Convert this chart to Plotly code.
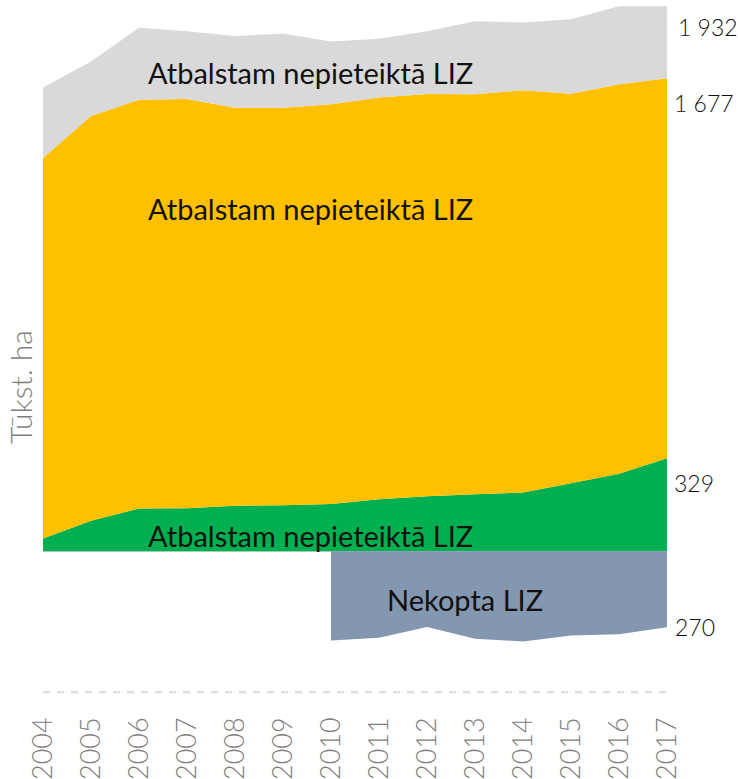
import plotly.graph_objects as go

years = list(range(2004, 2018))
green_vals = [45, 108, 151, 152, 161, 163, 167, 184, 195, 202, 208, 241, 274, 329]
orange_vals = [1349, 1435, 1449, 1451, 1411, 1409, 1417, 1424, 1426, 1418, 1426, 1381, 1381, 1348]
gray_vals = [250, 193, 256, 240, 254, 263, 223, 209, 222, 259, 240, 264, 277, 255]
neg_years = list(range(2010, 2018))
neg_vals = [-317, -307, -269, -311, -320, -299, -295, -270]

series_label = "Atbalstam nepieteiktā LIZ"
neg_label = "Nekopta LIZ"
end_labels = ["1 932", "1 677", "329", "270"]
y_title = "Tūkst. ha"

FONT = "Lato"
fig = go.Figure()
fig.add_trace(go.Scatter(x=years, y=green_vals, stackgroup="pos", mode="none",
                         fillcolor="#00b050", name="green"))
fig.add_trace(go.Scatter(x=years, y=orange_vals, stackgroup="pos", mode="none",
                         fillcolor="#ffc000", name="orange"))
fig.add_trace(go.Scatter(x=years, y=gray_vals, stackgroup="pos", mode="none",
                         fillcolor="#d9d9d9", name="gray"))
fig.add_trace(go.Scatter(x=neg_years, y=neg_vals, fill="tozeroy", mode="none",
                         fillcolor="#8497b0", name="neg"))

ann_font = dict(family=FONT, size=29, color="#111111", weight=400)
annotations = [
    dict(x=2009.58, y=1691, text=series_label),
    dict(x=2009.58, y=1206, text=series_label),
    dict(x=2009.58, y=50, text=series_label),
    dict(x=2012.79, y=-178, text=neg_label),
]
for a in annotations:
    fig.add_annotation(x=a["x"], y=a["y"], text=a["text"], showarrow=False,
                       font=ann_font, xanchor="center", yanchor="middle", yshift=2)

end_font = dict(family=FONT, size=23, color="#111111", weight=300)
end_pos = [(1875, 9), (1606, 5), (259, 5), (-252, 6)]
for txt, (yy, xs) in zip(end_labels, end_pos):
    fig.add_annotation(x=2017, y=yy, text=txt, showarrow=False, font=end_font,
                       xanchor="left", yanchor="middle", xshift=xs, yshift=-5)

# y-axis title as rotated annotation
fig.add_annotation(xref="paper", x=-0.037, y=582, text=y_title, showarrow=False,
                   textangle=-90, xanchor="center", yanchor="middle",
                   font=dict(family=FONT, size=30, color="#7f7f7f", weight=300))

# dashed baseline
fig.add_shape(type="line", x0=2004, x1=2017, y0=-500, y1=-500, xref="x", yref="y",
              line=dict(color="#d9d9d9", width=2, dash="7px,7px"))

fig.update_layout(
    width=738, height=779,
    margin=dict(l=43, r=71, t=0, b=84),
    plot_bgcolor="white", paper_bgcolor="white",
    showlegend=False,
    xaxis=dict(range=[2004, 2017], tickvals=years, ticktext=[str(y) for y in years],
               tickangle=-90, showgrid=False, zeroline=False, showline=False,
               automargin=False,
               tickfont=dict(family=FONT, size=27, color="#7f7f7f", weight=300),
               ticklabelstandoff=16),
    yaxis=dict(range=[-510, 1954], showticklabels=False, showgrid=False,
               automargin=False,
               zeroline=True, zerolinecolor="#d9d9d9", zerolinewidth=1),
)
fig.write_html("out.html", config={"displayModeBar": False},
               post_script="document.body.style.margin='0';document.body.style.overflow='hidden';")
